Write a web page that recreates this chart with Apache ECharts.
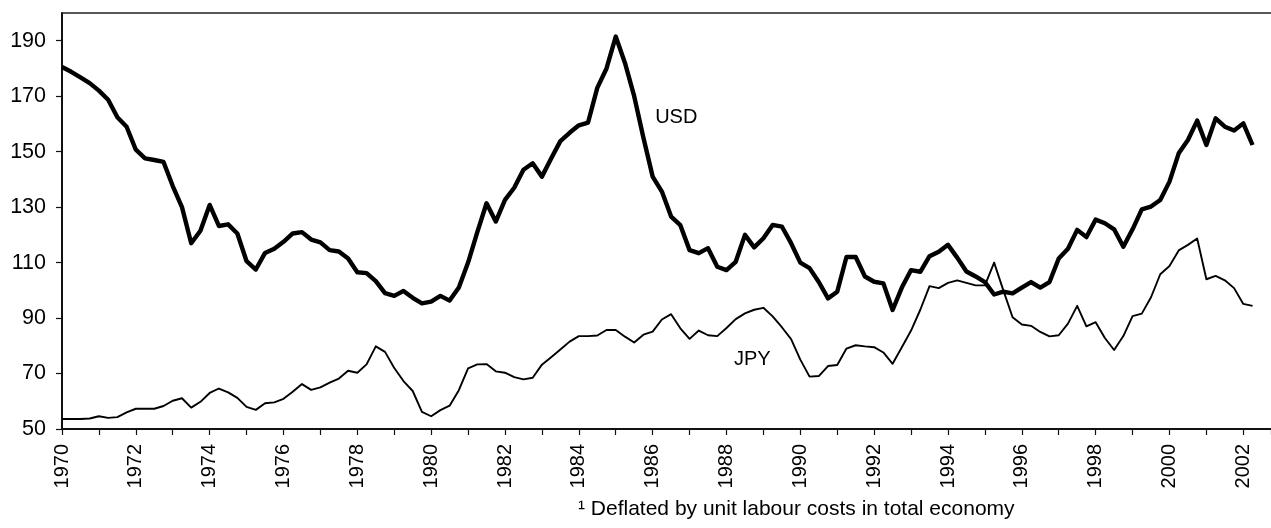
<!DOCTYPE html>
<html>
<head>
<meta charset="utf-8">
<script src="https://cdn.jsdelivr.net/npm/echarts@6/dist/echarts.min.js"></script>
<style>html,body{margin:0;padding:0;background:#fff}#c{width:1271px;height:528px}</style>
</head>
<body>
<div id="c"></div>
<script>
// Quarterly data, 1970Q1 .. 2002Q2
const startYear = 1970;
const stepYears = 0.25;
const usd = [180.5,178.8,176.8,174.7,172,168.7,162.4,159,150.7,147.6,147,146.3,137.6,130,117,121.5,
130.8,123.2,123.8,120.5,110.5,107.5,113.5,115,117.5,120.5,121,118.3,117.3,114.5,114,111.5,
106.5,106.2,103.3,99,98,99.8,97.3,95.3,95.9,98,96.3,101,110,121,131.4,124.8,
132.6,137,143.5,145.8,141,147.5,153.8,156.8,159.5,160.5,173,180,191.5,182,170,155,
141,135.6,126.6,123.5,114.5,113.4,115.2,108.5,107.3,110.3,120,115.5,118.8,123.6,123,117,
110,108,103,97.1,99.5,112,112,105,103.1,102.5,92.9,101,107.3,106.7,112.3,113.9,
116.4,111.8,106.8,105,103,98.5,99.5,98.9,101,103,101,103,111.5,115,121.8,119.2,
125.5,124.2,122,115.7,122,129.2,130.2,132.6,139.2,149.4,154.2,161.2,152.4,162,159,157.6,
160.2,152.4];
const jpy = [53.6,53.6,53.6,53.8,54.6,54,54.3,56,57.3,57.3,57.3,58.3,60.2,61.1,57.7,59.8,
63,64.6,63.2,61.2,58,56.9,59.3,59.6,60.9,63.4,66.2,64.1,65,66.7,68.2,71,
70.3,73.3,79.8,77.8,72,67.3,63.7,56.2,54.6,56.8,58.4,64,71.9,73.3,73.4,70.8,
70.3,68.7,67.9,68.5,73.2,75.9,78.7,81.5,83.5,83.5,83.7,85.7,85.7,83.3,81.2,84,
85.1,89.5,91.4,86.3,82.5,85.5,83.8,83.5,86.4,89.6,91.7,93,93.7,90.6,86.7,82.4,
75,68.9,69.1,72.7,73.1,79,80.2,79.8,79.5,77.6,73.5,79.5,85.5,93,101.5,100.8,
102.7,103.6,102.7,101.8,101.8,110,100,90.3,87.7,87.2,85,83.4,83.8,88,94.4,87,
88.5,82.8,78.5,83.5,90.7,91.6,97.5,105.8,108.8,114.4,116.4,118.7,104,105.2,103.6,100.8,
95.1,94.4];
const seriesNames = ['USD', 'JPY'];
const yTicks = {min: 50, max: 200, interval: 20};
const xRange = {min: 1970, max: 2002.75};
const footnote = '\u00b9 Deflated by unit labour costs in total economy';

const toPairs = arr => arr.map((v, i) => [startYear + i * stepYears, v]);
const FONT = '"Liberation Sans", Arial, sans-serif';

const chart = echarts.init(document.getElementById('c'), null, {renderer: 'canvas'});
chart.setOption({
  animation: false,
  backgroundColor: '#fff',
  grid: {left: 62, top: 13, width: 1210, height: 416},
  xAxis: [{
    type: 'value', min: xRange.min, max: xRange.max, interval: 1,
    axisLine: {show: true, lineStyle: {color: '#111', width: 2}},
    axisTick: {show: true, length: 6, lineStyle: {color: '#111', width: 1.2}},
    axisLabel: {
      rotate: 90, margin: 15, color: '#000', fontSize: 20, fontFamily: FONT,
      formatter: v => (Number.isInteger(v) && v % 2 === 0) ? String(v) : ''
    },
    splitLine: {show: false}
  }, {
    type: 'value', position: 'top', min: xRange.min, max: xRange.max,
    axisLine: {show: true, onZero: false, lineStyle: {color: '#222', width: 1.5}},
    axisTick: {show: false}, axisLabel: {show: false}, splitLine: {show: false}
  }],
  yAxis: {
    type: 'value', min: yTicks.min, max: yTicks.max, interval: yTicks.interval,
    axisLine: {show: true, lineStyle: {color: '#111', width: 2}},
    axisTick: {show: true, length: 6, lineStyle: {color: '#111', width: 1.2}},
    axisLabel: {showMaxLabel: false, margin: 16, color: '#000', fontSize: 21.5, fontFamily: FONT},
    splitLine: {show: false}
  },
  series: [{
    name: seriesNames[0], type: 'line', data: toPairs(usd), showSymbol: false,
    lineStyle: {color: '#000', width: 4.4, join: 'round'},
    markPoint: {
      symbol: 'circle', symbolSize: 0,
      label: {show: true, position: 'inside', formatter: seriesNames[0], color: '#000', fontSize: 20, fontFamily: FONT},
      data: [{coord: [1986.64, 162.3]}]
    }
  }, {
    name: seriesNames[1], type: 'line', data: toPairs(jpy), showSymbol: false,
    lineStyle: {color: '#000', width: 1.9, join: 'round'},
    markPoint: {
      symbol: 'circle', symbolSize: 0,
      label: {show: true, position: 'inside', formatter: seriesNames[1], color: '#000', fontSize: 20, fontFamily: FONT},
      data: [{coord: [1988.7, 74.9]}]
    }
  }],
  graphic: [{
    type: 'text', left: 578, top: 499,
    style: {text: footnote, fill: '#000', font: '21px ' + FONT}
  }]
});
</script>
</body>
</html>
